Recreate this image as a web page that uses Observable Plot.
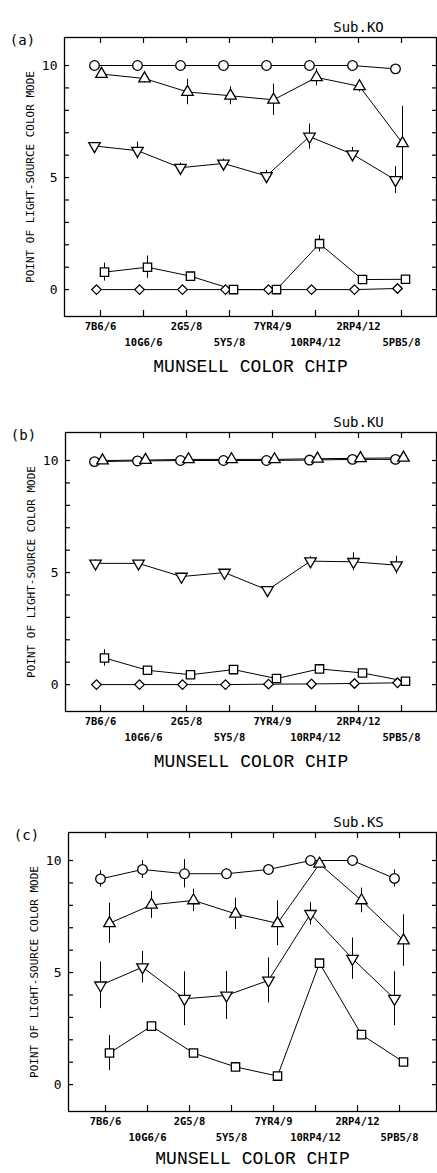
<!DOCTYPE html>
<html><head><meta charset="utf-8">
<script src="https://cdn.jsdelivr.net/npm/d3@7"></script>
<script src="https://cdn.jsdelivr.net/npm/@observablehq/plot@0.6"></script>
<style>body{margin:0;background:#fff} svg{display:block}</style>
</head><body><div id="chart"></div>
<script>
const chips = ["7B6/6","10G6/6","2G5/8","5Y5/8","7YR4/9","10RP4/12","2RP4/12","5PB5/8"];
const yLabelTicks = [0, 5, 10];
const yMinorTicks = [0,1,2,3,4,5,6,7,8,9,10];
const yAxisLabel = "POINT OF LIGHT-SOURCE COLOR MODE";
const xAxisLabel = "MUNSELL COLOR CHIP";
const panelLetters = ["(a)", "(b)", "(c)"];
const subjects = ["Sub.KO", "Sub.KU", "Sub.KS"];

// Panel (a) Sub.KO
const aCircle = [10,10,10,10,10,10,10,9.85];
const aUp = [9.62,9.42,8.82,8.65,8.47,9.47,9.07,6.53];
const aUpErr = [0,0.2,0.57,0.4,0.7,0.38,0.25,1.65];
const aDown = [6.41,6.2,5.44,5.63,5.07,6.83,6.04,4.89];
const aDownErr = [0,0.38,0.2,0.2,0.25,0.56,0.3,0.6];
const aSquare = [0.78,1.0,0.6,0,0,2.05,0.45,0.46];
const aSquareErr = [0.4,0.5,0.15,0,0,0.37,0,0];
const aDiamond = [0,0,0,0,0,0,0,0.05];

// Panel (b) Sub.KU
const bCircle = [9.95,9.98,10,10,10,10.02,10.05,10.05];
const bUp = [10,10.02,10.05,10.05,10.05,10.08,10.1,10.12];
const bDown = [5.41,5.41,4.82,5.0,4.22,5.51,5.48,5.33];
const bDownErr = [0.15,0.1,0,0,0,0.2,0.4,0.4];
const bSquare = [1.19,0.64,0.44,0.67,0.27,0.7,0.52,0.15];
const bSquareErr = [0.37,0.1,0,0.12,0,0.1,0.1,0];
const bDiamond = [0,0,0,0,0.02,0.03,0.05,0.08];

// Panel (c) Sub.KS
const cCircle = [9.18,9.6,9.41,9.41,9.6,10,10,9.2];
const cCircleErr = [0.37,0.4,0.63,0.1,0.1,0,0,0.38];
const cUp = [7.2,8.02,8.22,7.62,7.2,9.85,8.22,6.43];
const cUpErr = [0.9,0.6,0.5,0.7,1.0,0,0.55,1.15];
const cDown = [4.43,5.24,3.83,3.98,4.65,7.62,5.62,3.83];
const cDownErr = [1.04,0.7,1.2,1.07,1.0,0.5,0.92,1.2];
const cSquare = [1.41,2.61,1.41,0.79,0.38,5.42,2.23,1.01];
const cSquareErr = [0.78,0,0,0,0,0,0,0];

const zeros = chips.map(() => 0);
const sym = {
  circle: {symbol: "circle", r: 4.8, rotate: 0},
  up: {symbol: "triangle2", r: 5.5, rotate: 0},
  down: {symbol: "triangle2", r: 5.5, rotate: 180},
  square: {symbol: "square", r: 4.7, rotate: 0},
  diamond: {symbol: "diamond2", r: 4.3, rotate: 0}
};

const panels = [
  {letter: panelLetters[0], subject: subjects[0], marginLeft: 64, marginTop: 37, height: 395, titleDy: 55,
   series: [
     {kind: "circle", v: aCircle, e: zeros, dx: -6},
     {kind: "down", v: aDown, e: aDownErr, dx: -6},
     {kind: "diamond", v: aDiamond, e: zeros, dx: -4},
     {kind: "up", v: aUp, e: aUpErr, dx: 1},
     {kind: "square", v: aSquare, e: aSquareErr, dx: 4}
   ]},
  {letter: panelLetters[1], subject: subjects[1], marginLeft: 65, marginTop: 37, height: 395, titleDy: 55,
   series: [
     {kind: "circle", v: bCircle, e: zeros, dx: -6},
     {kind: "down", v: bDown, e: bDownErr, dx: -5},
     {kind: "diamond", v: bDiamond, e: zeros, dx: -4},
     {kind: "up", v: bUp, e: zeros, dx: 2},
     {kind: "square", v: bSquare, e: bSquareErr, dx: 4}
   ]},
  {letter: panelLetters[2], subject: subjects[2], marginLeft: 68, marginTop: 42, height: 383, titleDy: 52,
   series: [
     {kind: "circle", v: cCircle, e: cCircleErr, dx: -5},
     {kind: "down", v: cDown, e: cDownErr, dx: -5},
     {kind: "up", v: cUp, e: cUpErr, dx: 4},
     {kind: "square", v: cSquare, e: cSquareErr, dx: 4}
   ]}
];

const innerHeight = 279;
const evenChips = chips.filter((d, i) => i % 2 === 0);
const oddChips = chips.filter((d, i) => i % 2 === 1);

function makePanel(p) {
  const lines = [], rules = [], dots = [];
  for (const s of p.series) {
    const rows = chips.map((c, i) => ({chip: c, v: s.v[i], e: s.e[i]}));
    const st = sym[s.kind];
    lines.push(Plot.line(rows, {x: "chip", y: "v", dx: s.dx, stroke: "black", strokeWidth: 1}));
    rules.push(Plot.ruleX(rows.filter(d => d.e > 0), {x: "chip", y1: d => d.v - d.e, y2: d => d.v + d.e, dx: s.dx, stroke: "black", strokeWidth: 1}));
    dots.push(Plot.dot(rows, {x: "chip", y: "v", dx: s.dx, symbol: st.symbol, r: st.r, rotate: st.rotate, fill: "white", stroke: "black", strokeWidth: 1.3}));
  }
  return Plot.plot({
    width: 437,
    height: p.height,
    marginLeft: p.marginLeft,
    marginRight: 1,
    marginTop: p.marginTop,
    marginBottom: p.height - p.marginTop - innerHeight,
    style: {fontFamily: "'DejaVu Sans Mono', monospace", background: "white", color: "black"},
    x: {type: "point", domain: chips, padding: 0.78, axis: null},
    y: {domain: [-1.2, 11.25], axis: null},
    marks: [
      Plot.axisY(yMinorTicks, {anchor: "left", tickSize: -5, fill: "none", label: null, strokeWidth: 1.2}),
      Plot.axisY(yMinorTicks, {anchor: "right", tickSize: -5, fill: "none", label: null, strokeWidth: 1.2}),
      Plot.axisX(chips, {anchor: "top", tickSize: -5, fill: "none", label: null, strokeWidth: 1.2}),
      Plot.axisX(chips, {anchor: "bottom", tickSize: -6, fill: "none", label: null, strokeWidth: 1.2}),
      Plot.axisY(yLabelTicks, {anchor: "left", tickSize: 0, tickPadding: 7, label: null, fontSize: 13}),
      Plot.axisX(evenChips, {anchor: "bottom", tickSize: 0, tickPadding: 6, label: null, fontSize: 10.5, fontWeight: "bold"}),
      Plot.axisX(oddChips, {anchor: "bottom", tickSize: 0, tickPadding: 22, label: null, fontSize: 10.5, fontWeight: "bold"}),
      Plot.frame({stroke: "black", strokeWidth: 1.3}),
      Plot.text([yAxisLabel], {text: d => d, frameAnchor: "left", textAnchor: "middle", rotate: -90, dx: -34, fontSize: 11}),
      Plot.text([xAxisLabel], {text: d => d, frameAnchor: "bottom", textAnchor: "middle", dy: p.titleDy, fontSize: 18, fontFamily: "'Liberation Mono', monospace"}),
      Plot.text([p.subject], {text: d => d, frameAnchor: "top-right", textAnchor: "middle", dx: -78, dy: -15, fontSize: 14}),
      Plot.text([p.letter], {text: d => d, frameAnchor: "top-left", textAnchor: "middle", dx: -42, dy: -2, fontSize: 14}),
      ...lines,
      ...rules,
      ...dots
    ]
  });
}

const root = document.getElementById("chart");
for (const p of panels) root.appendChild(makePanel(p));
</script>
</body></html>
